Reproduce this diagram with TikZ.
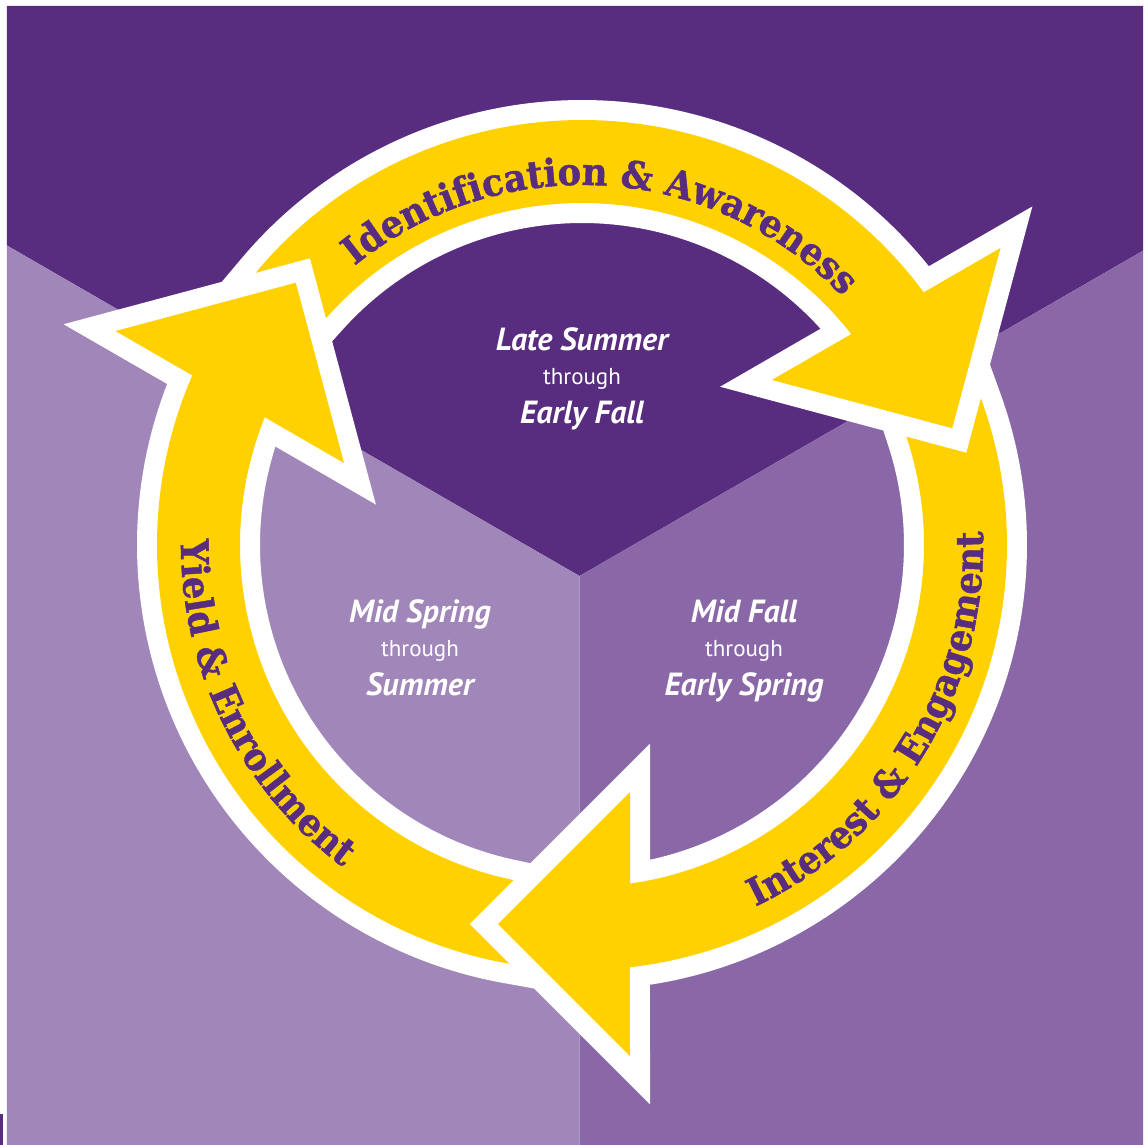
\documentclass[tikz,border=0pt]{standalone}
\usepackage{fontspec}
\usepackage{xcolor}
\usepackage{tikz}
\usetikzlibrary{positioning, calc, decorations.text}

\newfontfamily\ringfont[FakeStretch=0.93, FakeBold=1.2]{DejaVu Serif}
\newfontfamily\seasonfont{PT Sans}
\newcommand{\ringtext}{\ringfont\bfseries\fontsize{38}{42}\selectfont\color{deep}}

\definecolor{deep}{RGB}{88,44,127}
\definecolor{lilac}{RGB}{161,134,185}
\definecolor{mauve}{RGB}{138,104,168}
\definecolor{gold}{RGB}{255,209,0}

% one arrow of the cycle, head at the bottom
\newcommand{\cyclearrow}{(18.46:342) arc[start angle=18.46, end angle=-81.93, radius=342]
    -- (48,-247) -- (-84,-379) -- (48,-511) -- (-83.52:425)
    arc[start angle=-83.52, end angle=20.18, radius=425] -- (13.49:395.3) -- cycle}

\begin{document}
\begin{tikzpicture}[x=1pt, y=1pt,
    arrowedge/.style={draw=white, line width=40pt, line join=miter},
    arrowbody/.style={fill=gold},
    ringlabel/.style={decorate, decoration={text along path, text align=center}},
    season/.style={text=white, font=\seasonfont\bfseries\itshape\fontsize{32}{36}\selectfont, anchor=base, inner sep=0pt},
    thru/.style={text=white, font=\seasonfont\fontsize{23}{27}\selectfont, anchor=base, inner sep=0pt}
]
\useasboundingbox (-582,-600) rectangle (561,545);
\fill[white] (-582,-600) rectangle (561,545);

% background thirds
\coordinate (hub) at (-2.5,-31);
\fill[deep] (-575,539) -- (561,539) -- (561,294.3) -- (hub) -- (-575,299.5) -- cycle;
\fill[lilac] (-575,299.5) -- (hub) -- (-2.5,-600) -- (-575,-600) -- cycle;
\fill[mauve] (hub) -- (561,294.3) -- (561,-600) -- (-2.5,-600) -- cycle;
\fill[deep] (-582,-600) rectangle (-579,-569);

% arrows
\foreach \a in {0,120,240} \path[rotate=\a, arrowedge] \cyclearrow;
\foreach \a in {0,120,240} \path[rotate=\a, arrowbody] \cyclearrow;

\path[ringlabel, decoration={text={|\ringtext|Identification {\&} Awareness}}]
    (146.4:360) arc[start angle=146.4, end angle=26.4, radius=360];
\path[ringlabel, decoration={text={|\ringtext|Interest {\&} Engagement}}]
    (-91.2:401) arc[start angle=-91.2, end angle=28.8, radius=401];
\path[ringlabel, decoration={text={|\ringtext|Yield {\&} Enrollment}}]
    (146.3:401) arc[start angle=146.3, end angle=266.3, radius=401];

% seasons
\node[season] (lateSummer) at (0,194) {Late Summer};
\node[thru] (lateThrough) at ([yshift=-34pt]lateSummer.base) {through};
\node[season] (earlyFall) at ([yshift=-73pt]lateSummer.base) {Early Fall};

\node[season] (midSpring) at (-162,-77) {Mid Spring};
\node[thru] (springThrough) at ([yshift=-34pt]midSpring.base) {through};
\node[season] (summer) at ([yshift=-73pt]midSpring.base) {Summer};

\node[season] (midFall) at (162,-77) {Mid Fall};
\node[thru] (fallThrough) at ([yshift=-34pt]midFall.base) {through};
\node[season] (earlySpring) at ([yshift=-73pt]midFall.base) {Early Spring};
\end{tikzpicture}
\end{document}
